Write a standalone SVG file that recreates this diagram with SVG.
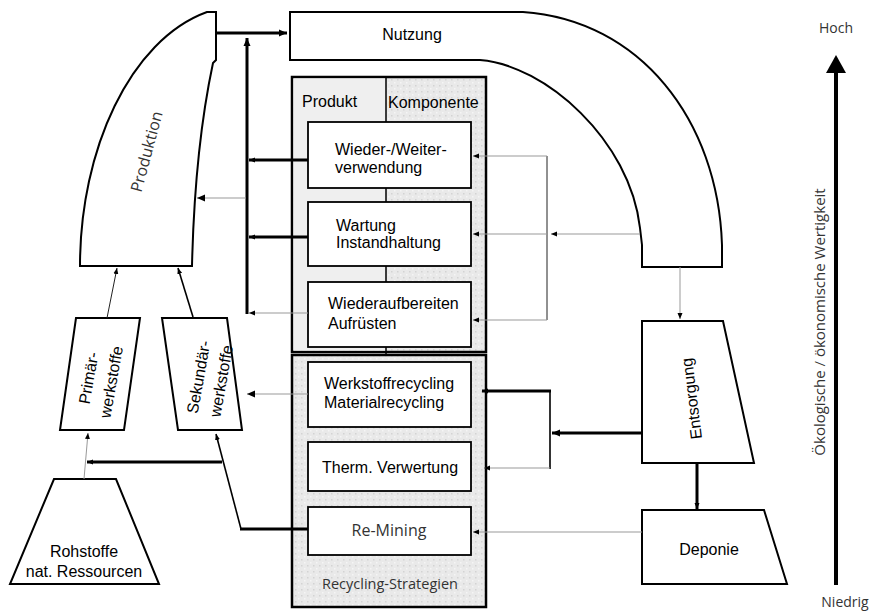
<svg xmlns="http://www.w3.org/2000/svg" width="872" height="615" viewBox="0 0 872 615">
<defs>
<pattern id="dots" width="6" height="6" patternUnits="userSpaceOnUse">
<rect width="6" height="6" fill="#e9e9e9"/>
<rect x="1" y="1" width="1.5" height="1.5" fill="#d3d3d3"/>
<rect x="4" y="4" width="1.5" height="1.5" fill="#f5f5f5"/>
</pattern>
<marker id="ah" markerUnits="userSpaceOnUse" markerWidth="9" markerHeight="8" refX="8" refY="4" orient="auto">
<path d="M0,0.5 L8,4 L0,7.5 Z" fill="#000"/>
</marker>
<marker id="as" markerUnits="userSpaceOnUse" markerWidth="7" markerHeight="6" refX="6" refY="3" orient="auto">
<path d="M0,0.5 L6,3 L0,5.5 Z" fill="#000"/>
</marker>
</defs>
<style>
.shape{fill:#fff;stroke:#000;stroke-width:2}
.box{fill:#fff;stroke:#000;stroke-width:1.8}
.t{font-family:"Liberation Sans",Arial,sans-serif;font-size:16px;fill:#000}
.lt{font-family:"Open Sans","Liberation Sans",sans-serif;fill:#333}
.thick{stroke:#000;stroke-width:3;fill:none}
.med{stroke:#000;stroke-width:1.6;fill:none}
.thin{stroke:#999;stroke-width:1;fill:none}
.thinb{stroke:#222;stroke-width:1;fill:none}
</style>

<g id="produktion">
<path class="shape" d="M216,12 L216,60 L213,63 C203,110 194,180 192,266 L80,266 C80,150 130,40 207,12 Z"/>
<text class="lt" font-size="16" fill="#555" transform="translate(152,153) rotate(-75)" text-anchor="middle">Produktion</text>
</g>

<g id="nutzung">
<path class="shape" d="M290,12 L523,12 C640,20 718,120 722,245 L722,267 L642,267 L642,245 L640,228 C630,140 545,65 480,60 L290,60 Z"/>
<text class="t" font-size="17" x="412" y="40" text-anchor="middle">Nutzung</text>
</g>

<g id="container-upper">
<rect x="292" y="77" width="194" height="275" fill="url(#dots)" stroke="#000" stroke-width="2.5"/>
<rect x="293.5" y="78.5" width="92.5" height="272" fill="#efefef"/>
<line x1="386" y1="77" x2="386" y2="122" stroke="#000" stroke-width="1.5"/>
<line x1="386" y1="188" x2="386" y2="202" stroke="#000" stroke-width="1.5"/>
<line x1="386" y1="266" x2="386" y2="282" stroke="#000" stroke-width="1.5"/>
<line x1="386" y1="347" x2="386" y2="355" stroke="#000" stroke-width="1.5"/>
<text class="t" x="302" y="107">Produkt</text>
<text class="t" font-size="16.5" x="388" y="108">Komponente</text>
</g>

<g id="container-lower">
<rect x="292" y="355" width="194" height="252" fill="url(#dots)" stroke="#000" stroke-width="2.5"/>
<text class="lt" font-size="14.5" x="390" y="589" text-anchor="middle">Recycling-Strategien</text>
</g>

<g id="wiederverwendung">
<rect class="box" x="308" y="122" width="163" height="66"/>
<text class="t" x="335" y="155">Wieder-/Weiter-</text>
<text class="t" x="335" y="173">verwendung</text>
</g>
<g id="wartung">
<rect class="box" x="308" y="202" width="163" height="64"/>
<text class="t" x="336" y="231">Wartung</text>
<text class="t" x="336" y="248">Instandhaltung</text>
</g>
<g id="wiederaufbereiten">
<rect class="box" x="308" y="282" width="163" height="65"/>
<text class="t" x="328" y="309">Wiederaufbereiten</text>
<text class="t" x="328" y="329">Aufrüsten</text>
</g>
<g id="werkstoffrecycling">
<rect class="box" x="308" y="362" width="163" height="65"/>
<text class="t" x="324" y="389">Werkstoffrecycling</text>
<text class="t" x="324" y="408">Materialrecycling</text>
</g>
<g id="therm">
<rect class="box" x="308" y="442" width="163" height="49"/>
<text class="t" x="390" y="473" text-anchor="middle">Therm. Verwertung</text>
</g>
<g id="remining">
<rect class="box" x="308" y="507" width="163" height="48"/>
<text class="lt" font-size="16" fill="#444" x="389" y="536" text-anchor="middle">Re-Mining</text>
</g>

<g id="entsorgung">
<path class="shape" d="M642,321 L723,321 L754,463 L642,463 Z"/>
<text class="t" font-size="16" transform="translate(697,398) rotate(-97)" text-anchor="middle">Entsorgung</text>
</g>
<g id="deponie">
<path class="shape" d="M642,510 L764,510 L787,584 L642,584 Z"/>
<text class="t" font-size="17" x="709" y="555" text-anchor="middle">Deponie</text>
</g>

<g id="primaer">
<path class="shape" d="M76,318 L140,318 L124,430 L60,430 Z"/>
<g transform="translate(94,379) rotate(-80)">
<text class="t" font-size="17" x="0" y="0" text-anchor="middle">Primär-</text>
<text class="t" font-size="17" x="0" y="23" text-anchor="middle">werkstoffe</text>
</g>
</g>
<g id="sekundaer">
<path class="shape" d="M162,318 L227,318 L242,430 L178,430 Z"/>
<g transform="translate(204,378) rotate(-80)">
<text class="t" font-size="17" x="0" y="0" text-anchor="middle">Sekundär-</text>
<text class="t" font-size="17" x="0" y="23" text-anchor="middle">werkstoffe</text>
</g>
</g>
<g id="rohstoffe">
<path class="shape" d="M54,479 L116,479 L159,584 L10,584 Z"/>
<text class="t" x="84" y="557" text-anchor="middle">Rohstoffe</text>
<text class="t" x="84" y="577" text-anchor="middle">nat. Ressourcen</text>
</g>

<g id="axis">
<line x1="836" y1="585" x2="836" y2="70" stroke="#000" stroke-width="4"/>
<path d="M826,73 L846,73 L836,55 Z" fill="#000"/>
<text class="lt" font-size="14" x="836" y="33" text-anchor="middle">Hoch</text>
<text class="lt" font-size="14" x="845" y="607" text-anchor="middle">Niedrig</text>
<text class="lt" font-size="15" transform="translate(825,322) rotate(-90)" text-anchor="middle">Ökologische / ökonomische Wertigkeit</text>
</g>

<g id="connectors">
<line class="thick" x1="216" y1="33" x2="287" y2="33" marker-end="url(#ah)"/>
<line class="thick" x1="247" y1="314" x2="247" y2="38" marker-end="url(#ah)"/>
<line class="thick" x1="308" y1="160" x2="249" y2="160" marker-end="url(#as)"/>
<line class="thick" x1="308" y1="237" x2="249" y2="237" marker-end="url(#as)"/>
<line class="thin" x1="308" y1="313" x2="249" y2="313" marker-end="url(#as)"/>
<line class="thin" x1="246" y1="198" x2="197" y2="198" marker-end="url(#ah)"/>
<line class="thinb" x1="547" y1="156" x2="547" y2="320"/>
<line class="thin" x1="547" y1="156" x2="473" y2="156" marker-end="url(#as)"/>
<line class="thin" x1="547" y1="320" x2="473" y2="320" marker-end="url(#as)"/>
<line class="thin" x1="640" y1="234" x2="551" y2="234" marker-end="url(#as)"/>
<line class="thin" x1="547" y1="234" x2="473" y2="234" marker-end="url(#as)"/>
<line class="thin" x1="680" y1="267" x2="680" y2="319" marker-end="url(#as)"/>
<line class="thick" x1="697" y1="463" x2="697" y2="509" marker-end="url(#as)"/>
<line class="thick" x1="642" y1="433" x2="552" y2="433" marker-end="url(#ah)"/>
<line class="med" x1="550" y1="390" x2="550" y2="469"/>
<line class="thick" x1="551" y1="391" x2="482" y2="391" marker-end="url(#as)"/>
<line class="thin" x1="550" y1="468" x2="484" y2="468" marker-end="url(#as)"/>
<line class="thin" x1="642" y1="532" x2="473" y2="532" marker-end="url(#as)"/>
<line class="thick" x1="308" y1="529" x2="240" y2="529"/>
<line class="med" x1="241" y1="529" x2="216" y2="434" marker-end="url(#as)"/>
<line class="thick" x1="222" y1="462" x2="87" y2="462" marker-end="url(#as)"/>
<line class="thin" x1="308" y1="394" x2="247" y2="394" marker-end="url(#ah)"/>
<line class="thin" x1="84" y1="479" x2="88" y2="433" marker-end="url(#as)"/>
<line class="thinb" x1="107" y1="318" x2="117" y2="268" marker-end="url(#as)"/>
<line class="med" x1="193" y1="317" x2="178" y2="268" marker-end="url(#as)"/>
</g>
</svg>
